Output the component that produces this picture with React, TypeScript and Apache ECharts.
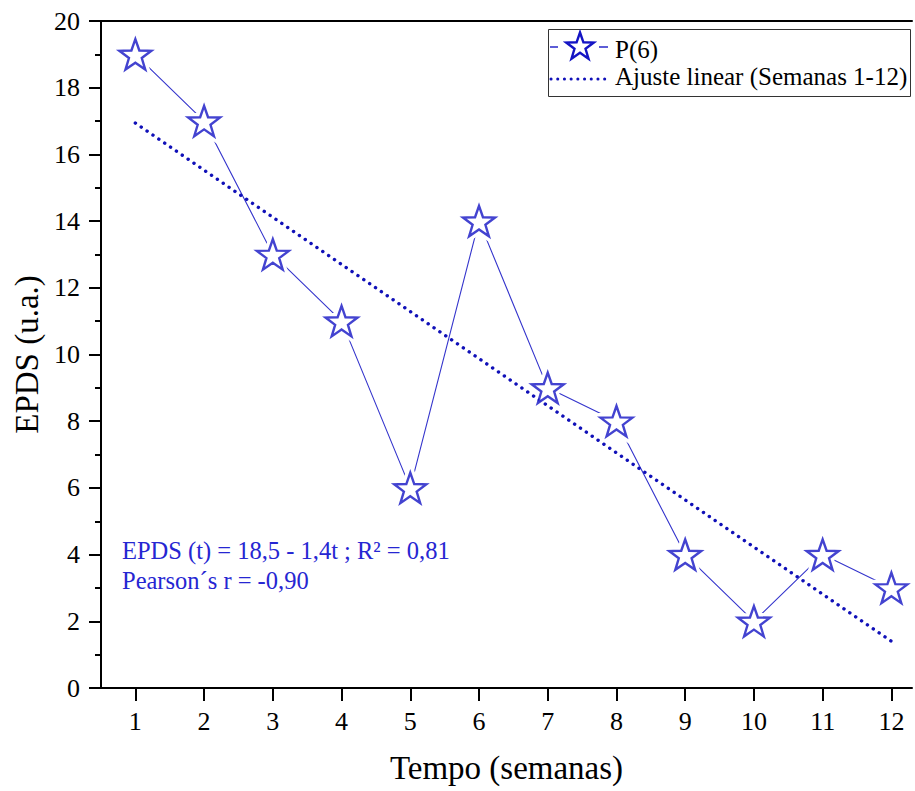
import React, { useEffect, useRef } from "react";
import * as echarts from "echarts";

const weeks = [1, 2, 3, 4, 5, 6, 7, 8, 9, 10, 11, 12];
const epds = [19, 17, 13, 11, 6, 14, 9, 8, 4, 2, 4, 3];
const fitWeeks = [1, 12];
const fitValues = [16.94, 1.4];
const xTicks = [1, 2, 3, 4, 5, 6, 7, 8, 9, 10, 11, 12];
const seriesNames = ["P(6)", "Ajuste linear (Semanas 1-12)"];
const annotationLines = ["EPDS (t) = 18,5 - 1,4t ; R² = 0,81", "Pearson´s r = -0,90"];

const STAR =
  "path://M50,0 L61.76,33.82 L97.55,34.55 L69.02,56.18 L79.39,90.45 L50,70 L20.61,90.45 L30.98,56.18 L2.45,34.55 L38.24,33.82 Z";

const FONT = "Liberation Serif";
const STAR_COLOR = "#1414c4";
const LINE_COLOR = "#3434cc";
const FIT_COLOR = "#1010b8";

function starPoints(cx: number, cy: number, R: number, r: number) {
  const pts: number[][] = [];
  for (let i = 0; i < 10; i++) {
    const a = -Math.PI / 2 + (i * Math.PI) / 5;
    const rad = i % 2 === 0 ? R : r;
    pts.push([cx + rad * Math.cos(a), cy + rad * Math.sin(a)]);
  }
  return pts;
}

export default function App() {
  const ref = useRef<HTMLDivElement>(null);
  useEffect(() => {
    if (!ref.current) return;
    const chart = echarts.init(ref.current, undefined, { renderer: "svg" });
    const pointData = weeks.map((w, i) => [w, epds[i]]);
    chart.setOption({
      animation: false,
      backgroundColor: "#fff",
      textStyle: { fontFamily: FONT },
      grid: { left: 101, right: 3, top: 21, bottom: 103 },
      xAxis: [
        {
          type: "value",
          min: 0.5,
          max: 12.3,
          name: "Tempo (semanas)",
          nameLocation: "middle",
          nameGap: 63,
          nameTextStyle: { fontFamily: FONT, fontSize: 33, color: "#000" },
          axisLine: { show: true, onZero: false, lineStyle: { color: "#000", width: 2 } },
          axisTick: { show: true, inside: false, length: 13, customValues: xTicks, lineStyle: { color: "#000", width: 2 } },
          axisLabel: { customValues: xTicks, fontFamily: FONT, fontSize: 26, color: "#000", margin: 20 },
          splitLine: { show: false },
        },
        {
          type: "value",
          position: "top",
          min: 0.5,
          max: 12.3,
          axisLine: { show: true, onZero: false, lineStyle: { color: "#000", width: 2 } },
          axisTick: { show: false },
          axisLabel: { show: false },
          splitLine: { show: false },
        },
      ],
      yAxis: {
        type: "value",
        min: 0,
        max: 20,
        interval: 2,
        name: "EPDS (u.a.)",
        nameLocation: "middle",
        nameGap: 54,
        nameTextStyle: { fontFamily: FONT, fontSize: 33, color: "#000" },
        axisLine: { show: true, onZero: false, lineStyle: { color: "#000", width: 2 } },
        axisTick: { show: true, inside: false, length: 12, lineStyle: { color: "#000", width: 2 } },
        minorTick: { show: true, splitNumber: 2, length: 6, lineStyle: { color: "#000", width: 2 } },
        axisLabel: { fontFamily: FONT, fontSize: 26, color: "#000", margin: 21 },
        splitLine: { show: false },
      },
      series: [
        {
          name: seriesNames[0],
          type: "line",
          data: pointData,
          symbol: STAR,
          symbolSize: 32,
          symbolKeepAspect: true,
          showAllSymbol: true,
          lineStyle: { color: LINE_COLOR, width: 1.1 },
          itemStyle: { color: "#fff", borderColor: "#fff", borderWidth: 9 },
          z: 2,
        },
        {
          name: seriesNames[1],
          type: "line",
          data: fitWeeks.map((w, i) => [w, fitValues[i]]),
          symbol: "none",
          lineStyle: { color: FIT_COLOR, width: 3.4, type: [0.1, 7], cap: "round" },
          z: 3,
        },
        {
          name: seriesNames[0] + " markers",
          type: "scatter",
          data: pointData,
          symbol: STAR,
          symbolSize: 32,
          symbolKeepAspect: true,
          itemStyle: { color: "#fff", borderColor: STAR_COLOR, borderWidth: 2.4 },
          z: 4,
        },
      ],
      graphic: [
        {
          type: "text",
          left: 122,
          top: 535,
          z: 10,
          style: {
            text: annotationLines.join("\n"),
            fontFamily: FONT,
            fontSize: 24.5,
            lineHeight: 30,
            fill: "#2626d2",
          },
        },
        {
          type: "group",
          z: 10,
          children: [
            {
              type: "rect",
              shape: { x: 548.5, y: 29.5, width: 362, height: 67 },
              style: { fill: "#fff", stroke: "#333", lineWidth: 1 },
            },
            {
              type: "line",
              shape: { x1: 550, y1: 47, x2: 558, y2: 47 },
              style: { stroke: LINE_COLOR, lineWidth: 1.6 },
            },
            {
              type: "line",
              shape: { x1: 599, y1: 47, x2: 608, y2: 47 },
              style: { stroke: LINE_COLOR, lineWidth: 1.6 },
            },
            {
              type: "polygon",
              shape: { points: starPoints(580, 47, 14.5, 5.8) },
              style: { fill: "#fff", stroke: STAR_COLOR, lineWidth: 2.4 },
            },
            {
              type: "text",
              x: 615,
              y: 49,
              style: {
                text: seriesNames[0],
                fontFamily: FONT,
                fontSize: 25,
                fill: "#000",
                verticalAlign: "middle",
              },
            },
            {
              type: "line",
              shape: { x1: 551, y1: 79, x2: 605, y2: 79 },
              style: { stroke: FIT_COLOR, lineWidth: 3, lineDash: [0.1, 6.6], lineCap: "round" },
            },
            {
              type: "text",
              x: 615,
              y: 76,
              style: {
                text: seriesNames[1],
                fontFamily: FONT,
                fontSize: 25,
                fill: "#000",
                verticalAlign: "middle",
              },
            },
          ],
        },
      ],
    });
    return () => chart.dispose();
  }, []);
  return (
    <div
      ref={ref}
      style={{ position: "fixed", left: 0, top: 0, width: 915, height: 791 }}
    />
  );
}
